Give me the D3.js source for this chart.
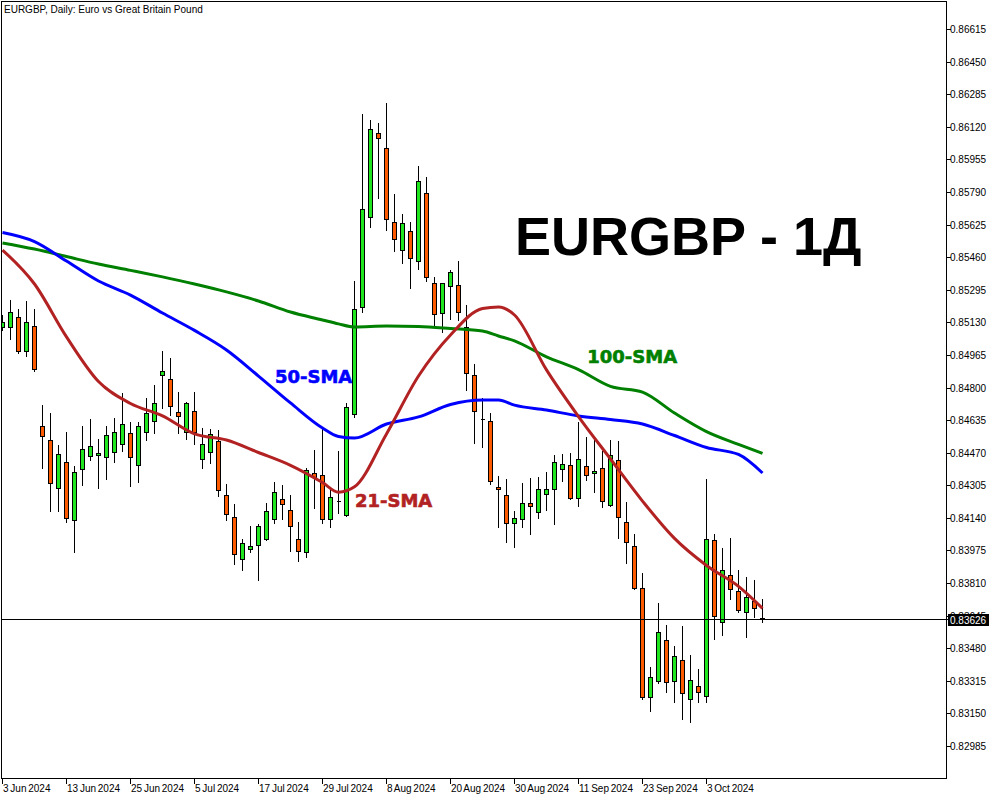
<!DOCTYPE html>
<html><head><meta charset="utf-8">
<script src="https://cdn.jsdelivr.net/npm/d3@7"></script>
<style>body{margin:0;background:#fff} svg{display:block}</style>
</head><body><svg id="c" width="1000" height="800"></svg>
<script>
// ---- data ----
const symbolTitle = "EURGBP, Daily:  Euro vs Great Britain Pound";
const bigTitle = "EURGBP - 1Д";
const openP = [.85106,.85108,.85155,.84983,.85110,.84605,.84533,.84290,.84422,.84128,.84386,.84452,.84457,.84447,.84472,.84513,.84568,.84406,.84573,.84629,.84862,.84842,.84675,.84573,.84681,.84437,.84472,.84528,.84255,.84143,.83931,.83984,.84001,.84035,.84133,.84234,.84178,.84032,.83966,.84366,.84356,.84134,.84223,.84155,.84666,.85206,.85662,.86087,.86011,.85636,.85495,.85591,.85439,.85784,.85327,.85176,.85314,.85318,.85108,.84862,.84642,.84629,.84295,.84255,.84113,.84133,.84214,.84168,.84260,.84285,.84386,.84406,.84239,.84401,.84366,.84391,.84204,.84432,.84118,.83996,.83784,.83235,.83316,.83520,.83313,.83419,.83222,.83287,.83240,.84027,.83611,.83849,.83769,.83662,.83718,.83632];
const highP = [.85172,.85248,.85201,.85243,.85203,.84717,.84676,.84514,.84580,.84406,.84610,.84646,.84544,.84610,.84651,.84776,.84630,.84630,.84752,.84818,.84989,.84953,.84781,.84733,.84783,.84600,.84595,.84588,.84315,.84214,.84040,.84104,.84114,.84222,.84325,.84310,.84263,.84123,.84399,.84489,.84599,.84290,.84484,.84729,.85344,.86190,.86159,.86144,.86244,.85784,.85682,.85643,.85927,.85871,.85365,.85332,.85400,.85445,.85223,.84926,.84751,.84676,.84356,.84342,.84180,.84320,.84346,.84352,.84377,.84463,.84469,.84472,.84630,.84553,.84538,.84484,.84539,.84534,.84224,.84063,.83866,.83390,.83714,.83603,.83496,.83598,.83451,.83380,.84341,.84063,.83991,.84043,.83880,.83844,.83829,.83733];
const lowP = [.85091,.85046,.84976,.84961,.84885,.84394,.84176,.84176,.84121,.83969,.84308,.84435,.84293,.84339,.84425,.84477,.84303,.84323,.84533,.84571,.84698,.84662,.84568,.84539,.84513,.84391,.84416,.84251,.84128,.83908,.83876,.83966,.83826,.84027,.84113,.84134,.83971,.83920,.83941,.84188,.84113,.84095,.84163,.84150,.84652,.85184,.85611,.85758,.85597,.85493,.85432,.85306,.85399,.85341,.85108,.85080,.85145,.85142,.84787,.84518,.84498,.84312,.84095,.84019,.83991,.84095,.84057,.84141,.84178,.84110,.84325,.84236,.84202,.84330,.84270,.84194,.84200,.84037,.83913,.83779,.83225,.83164,.83306,.83260,.83209,.83120,.83105,.83209,.83206,.83525,.83546,.83731,.83665,.83538,.83640,.83611];
const closeP = [.85132,.85184,.84987,.85130,.84892,.84553,.84315,.84462,.84138,.84371,.84487,.84503,.84467,.84558,.84573,.84614,.84447,.84604,.84669,.84720,.84882,.84705,.84654,.84723,.84576,.84513,.84566,.84280,.84158,.83956,.84013,.83996,.84097,.84173,.84270,.84209,.84097,.83971,.84381,.84346,.84134,.84244,.84223,.84699,.85196,.85702,.86107,.86062,.85652,.85550,.85631,.85454,.85846,.85358,.85171,.85327,.85383,.85181,.84872,.84680,.84639,.84325,.84285,.84113,.84138,.84214,.84199,.84285,.84285,.84422,.84411,.84239,.84437,.84356,.84376,.84224,.84457,.84143,.84017,.83787,.83235,.83333,.83561,.83308,.83439,.83252,.83318,.83257,.84032,.83642,.83875,.83779,.83672,.83738,.83682,.83626];
const smaIdx = [0,4,8,12,16,20,24,28,32,36,40,42,44,48,52,56,60,62,64,68,72,76,80,84,88,92,95];
const sma21 = [.85496,.85324,.85056,.84830,.84719,.84656,.84565,.84534,.84471,.84406,.84319,.84270,.84297,.84565,.84858,.85066,.85200,.85208,.85167,.84889,.84653,.84438,.84225,.84036,.83899,.83793,.83682];
const sma50 = [.85585,.85539,.85440,.85339,.85268,.85177,.85089,.84990,.84858,.84722,.84595,.84552,.84544,.84615,.84651,.84714,.84737,.84737,.84711,.84686,.84656,.84638,.84615,.84557,.84496,.84461,.84367];
const sma100 = [.85532,.85501,.85463,.85425,.85393,.85360,.85324,.85284,.85238,.85182,.85142,.85122,.85106,.85111,.85109,.85099,.85086,.85061,.85036,.84955,.84891,.84806,.84777,.84671,.84577,.84512,.84466];
const priceTicks = [0.86615,0.86450,0.86285,0.86120,0.85955,0.85790,0.85625,0.85460,0.85295,0.85130,0.84965,0.84800,0.84635,0.84470,0.84305,0.84140,0.83975,0.83810,0.83645,0.83480,0.83315,0.83150,0.82985];
const xTickIdx = [0,8,16,24,32,40,48,56,64,72,80,88];
const xTickLabels = ["3 Jun 2024","13 Jun 2024","25 Jun 2024","5 Jul 2024","17 Jul 2024","29 Jul 2024","8 Aug 2024","20 Aug 2024","30 Aug 2024","11 Sep 2024","23 Sep 2024","3 Oct 2024"];
const lastPrice = 0.83626;
const maLabels = [
  {text:"21-SMA", idx:44.06, price:0.84193, color:"#b22222"},
  {text:"50-SMA", idx:34.06, price:0.84824, color:"#0000ff"},
  {text:"100-SMA", idx:73.1, price:0.84922, color:"#008000"}
];

// ---- drawing ----
const svg = d3.select("#c");
const L = 1.5, T = 1.5, R = 946.5, B = 778.5;
const x = d3.scaleLinear().domain([0, 95]).range([2.5, 762.5]);
const y = d3.scaleLinear().domain([0.82985, 0.86615]).range([746, 29]);
const py = v => Math.round(y(v)) + 0.5;
const FONT = "'Liberation Sans', Arial, sans-serif";

svg.append("rect").attr("width",1000).attr("height",800).attr("fill","#fff");
const defs = svg.append("defs");
defs.append("clipPath").attr("id","clip")
  .append("rect").attr("x",L).attr("y",T).attr("width",R-L).attr("height",B-T);

const plotG = svg.append("g").attr("clip-path","url(#clip)");

// candles
const data = openP.map((o,i)=>({i,o,h:highP[i],l:lowP[i],c:closeP[i]}));
const cg = plotG.append("g").attr("shape-rendering","crispEdges");
data.forEach(d=>{
  const cx = x(d.i);
  cg.append("line").attr("x1",cx).attr("x2",cx).attr("y1",py(d.h)).attr("y2",py(d.l))
    .attr("stroke","#000").attr("stroke-width",1);
  const yo = py(d.o), yc = py(d.c);
  if (Math.abs(yo-yc) < 1) {
    cg.append("line").attr("x1",cx-2).attr("x2",cx+2).attr("y1",yo).attr("y2",yo)
      .attr("stroke","#000").attr("stroke-width",1);
  } else {
    cg.append("rect").attr("x",cx-2).attr("width",4)
      .attr("y",Math.min(yo,yc)).attr("height",Math.abs(yo-yc))
      .attr("fill", d.c>d.o ? "#1fe61f" : "#ff5a00")
      .attr("stroke","#000").attr("stroke-width",1);
  }
});

// moving averages
const line = d3.line().x(d=>x(d[0])).y(d=>y(d[1])).curve(d3.curveMonotoneX);
[[sma100,"#008000"],[sma50,"#0000ff"],[sma21,"#b22222"]].forEach(([arr,col])=>{
  plotG.append("path").datum(smaIdx.map((k,j)=>[k,arr[j]]))
    .attr("d",line).attr("fill","none").attr("stroke",col).attr("stroke-width",3)
    .attr("stroke-linejoin","round");
});

// MA labels
maLabels.forEach(m=>{
  svg.append("text").attr("x",x(m.idx)).attr("y",y(m.price))
    .attr("font-family","'DejaVu Sans', sans-serif").attr("font-weight","bold")
    .attr("font-size",18).attr("fill",m.color)
    .attr("stroke",m.color).attr("stroke-width",0.6).text(m.text);
});

// big title
svg.append("text").attr("x",515).attr("y",255)
  .attr("font-family",FONT).attr("font-weight","bold").attr("font-size",54)
  .attr("fill","#000").text(bigTitle);

// frame
svg.append("rect").attr("x",L).attr("y",T).attr("width",R-L).attr("height",B-T)
  .attr("fill","none").attr("stroke","#000").attr("stroke-width",1).attr("shape-rendering","crispEdges");

// price axis
const yl = py(lastPrice);
defs.append("clipPath").attr("id","axclip")
  .append("rect").attr("x",0).attr("y",0).attr("width",1000).attr("height",yl-5.5);
const ag = svg.append("g").attr("shape-rendering","crispEdges");
priceTicks.forEach(p=>{
  const yy = py(p);
  ag.append("line").attr("x1",R).attr("x2",R+4).attr("y1",yy).attr("y2",yy).attr("stroke","#000");
  const t = svg.append("text").attr("x",R+3.5).attr("y",yy+3.5).attr("font-family",FONT)
    .attr("font-size",10).attr("fill","#000").text(p.toFixed(5));
  if (Math.abs(yy-yl) < 12 && yy < yl) t.attr("clip-path","url(#axclip)");
});

// time axis
xTickIdx.forEach((k,j)=>{
  const xx = x(k);
  ag.append("line").attr("x1",xx).attr("x2",xx).attr("y1",B).attr("y2",B+5).attr("stroke","#000");
  svg.append("text").attr("x",xx+0.5).attr("y",792).attr("font-family",FONT)
    .attr("font-size",10).attr("word-spacing","-1px").attr("fill","#000").text(xTickLabels[j]);
});

// current price line and label
svg.append("line").attr("x1",L).attr("x2",R+2).attr("y1",yl).attr("y2",yl)
  .attr("stroke","#000").attr("stroke-width",1).attr("shape-rendering","crispEdges");
svg.append("rect").attr("x",R+1.5).attr("y",yl-5.5).attr("width",41).attr("height",12).attr("fill","#000");
svg.append("text").attr("x",R+3.5).attr("y",yl+4).attr("font-family",FONT)
  .attr("font-size",10).attr("fill","#fff").text(lastPrice.toFixed(5));

// symbol title
svg.append("text").attr("x",4).attr("y",13).attr("font-family",FONT)
  .attr("font-size",10).attr("fill","#000").text(symbolTitle);
</script></body></html>
